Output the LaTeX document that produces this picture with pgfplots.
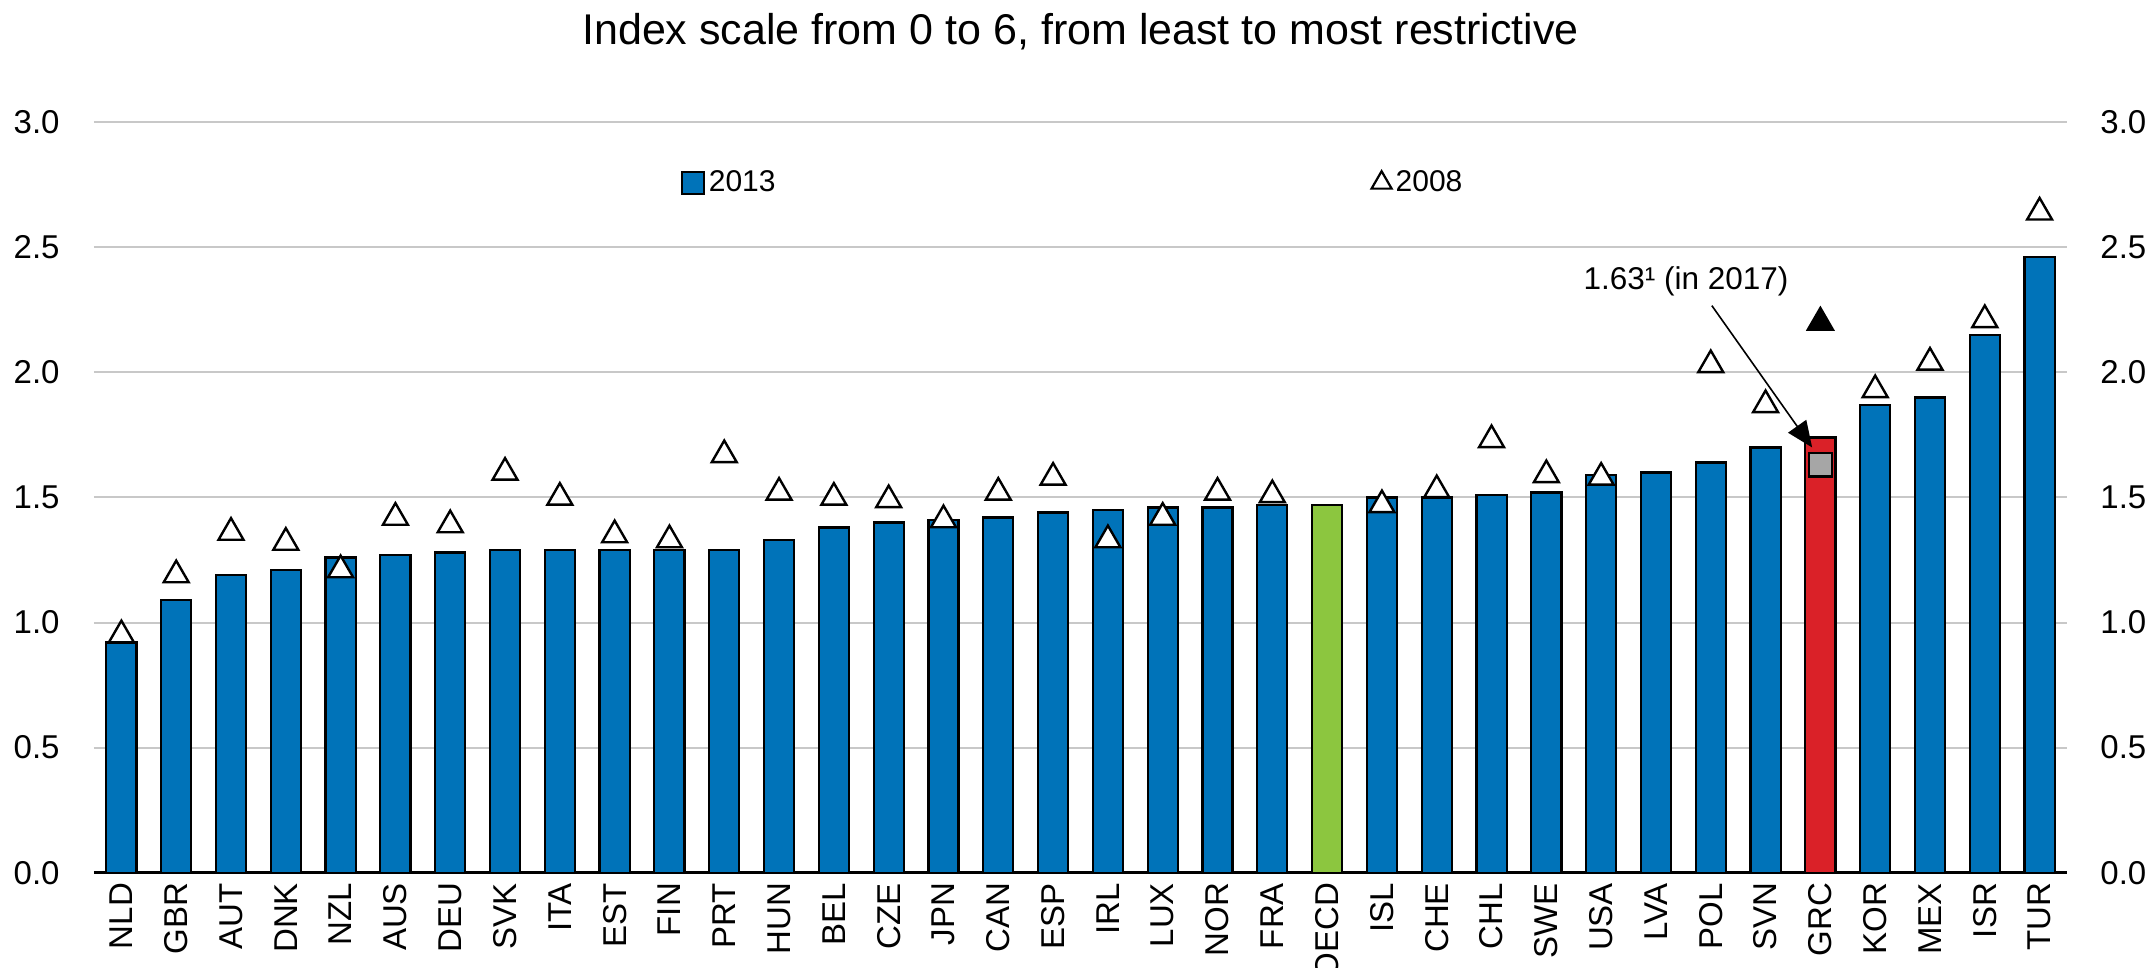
\documentclass[border=0pt]{standalone}
\usepackage{fontspec}
\setmainfont{Liberation Sans}
\usepackage{pgfplots}
\usepackage{pgfplotstable}
\pgfplotsset{compat=1.18}
\usetikzlibrary{arrows.meta}
\definecolor{oblue}{RGB}{0,115,185}
\definecolor{ogreen}{RGB}{140,198,63}
\definecolor{ored}{RGB}{218,33,40}
\definecolor{ogrey}{RGB}{166,166,166}
\definecolor{gridc}{RGB}{200,200,200}

\pgfplotstableread{
x y
0 0.92
1 1.09
2 1.19
3 1.21
4 1.26
5 1.27
6 1.28
7 1.29
8 1.29
9 1.29
10 1.29
11 1.29
12 1.33
13 1.38
14 1.40
15 1.41
16 1.42
17 1.44
18 1.45
19 1.46
20 1.46
21 1.47
23 1.50
24 1.50
25 1.51
26 1.52
27 1.59
28 1.60
29 1.64
30 1.70
32 1.87
33 1.90
34 2.15
35 2.46
}\barsblue

\pgfplotstableread{
x y
0 0.95
1 1.19
2 1.36
3 1.32
4 1.21
5 1.42
6 1.39
7 1.60
8 1.50
9 1.35
10 1.33
11 1.67
12 1.52
13 1.50
14 1.49
15 1.41
16 1.52
17 1.58
18 1.33
19 1.42
20 1.52
21 1.51
23 1.47
24 1.53
25 1.73
26 1.59
27 1.58
29 2.03
30 1.87
32 1.93
33 2.04
34 2.21
35 2.64
}\tri

\begin{document}
\begin{tikzpicture}
\pgfplotsset{
  common/.style={
    scale only axis, width=986.5pt, height=375.2pt,
    xmin=-0.5, xmax=35.5, ymin=0, ymax=3,
    ytick={0,0.5,1,1.5,2,2.5,3},
    major tick length=0pt,
    /pgf/number format/.cd, fixed, fixed zerofill, precision=1, assume math mode=true,
    /pgfplots/.cd,
    yticklabel style={font=\fontsize{16.5pt}{19pt}\selectfont, inner sep=0pt},
  }
}
\begin{axis}[common,
  axis x line*=bottom, axis y line*=left,
  y axis line style={draw=none},
  x axis line style={black, line width=1.3pt},
  ymajorgrids, grid style={gridc, line width=1pt},
  yticklabel style={anchor=east, xshift=-17pt},
  xtick={0,...,35},
  xticklabels={NLD,GBR,AUT,DNK,NZL,AUS,DEU,SVK,ITA,EST,FIN,PRT,HUN,BEL,CZE,JPN,CAN,ESP,IRL,LUX,NOR,FRA,OECD,ISL,CHE,CHL,SWE,USA,LVA,POL,SVN,GRC,KOR,MEX,ISR,TUR},
  xticklabel style={font=\fontsize{16.5pt}{19pt}\selectfont, inner sep=0pt, yshift=-5pt, rotate=90, anchor=east},
  legend columns=2,
  legend style={at={(axis cs:10.2,2.758)}, anchor=west, draw=none, fill=none,
    inner sep=0pt, font=\fontsize{15pt}{18pt}\selectfont,
    /tikz/column 2/.style={column sep=296pt}},
]
\addplot[ybar, bar width=0.55, bar shift=0pt, fill=oblue, draw=black, line width=1.1pt,
  legend image code/.code={\draw[fill=oblue, draw=black, line width=1pt] (0pt,-5.5pt) rectangle (11pt,5.5pt);}]
  table[x=x,y=y] {\barsblue};
\addlegendentry{2013}
\addplot[ybar, bar width=0.55, bar shift=0pt, fill=ogreen, draw=black, line width=1.1pt, forget plot]
  coordinates {(22,1.47)};
\addplot[ybar, bar width=0.55, bar shift=0pt, fill=ored, draw=black, line width=1.1pt, forget plot]
  coordinates {(31,1.74)};
\addplot[only marks, mark=triangle*, mark size=7.2pt, mark options={fill=white, draw=black, line width=1.2pt},
  legend image code/.code={\draw[mark=triangle*, mark size=5.8pt, mark options={fill=white, draw=black, line width=1.1pt}] plot coordinates {(0pt,0pt)};}]
  table[x=x,y=y] {\tri};
\addlegendentry{2008}
\addplot[only marks, mark=triangle*, mark size=7.6pt, mark options={fill=black, draw=black, line width=0.8pt}, forget plot]
  coordinates {(31,2.20)};
\addplot[only marks, mark=square*, mark size=5.8pt, mark options={fill=ogrey, draw=black, line width=1.1pt}, forget plot]
  coordinates {(31,1.63)};
\node[font=\fontsize{15.75pt}{18pt}\selectfont, inner sep=0pt] at (axis cs:28.55,2.366) {1.63¹ (in 2017)};
\draw[line width=0.8pt, -{Triangle[length=13pt,width=11pt]}] (axis cs:29.02,2.267) -- (axis cs:30.85,1.70);
\end{axis}
\begin{axis}[common,
  axis y line*=right, axis x line=none,
  y axis line style={draw=none},
  yticklabel style={anchor=west, xshift=16.5pt},
]
\addplot[draw=none] coordinates {(0,0)};
\end{axis}
\node[anchor=base, font=\fontsize{21.5pt}{24pt}\selectfont, inner sep=0pt] at (493.25pt,413.85pt) {Index scale from 0 to 6, from least to most restrictive};
\pgfresetboundingbox
\path (-47pt,-47.65pt) rectangle (1030pt,436.35pt);
\end{tikzpicture}
\end{document}
